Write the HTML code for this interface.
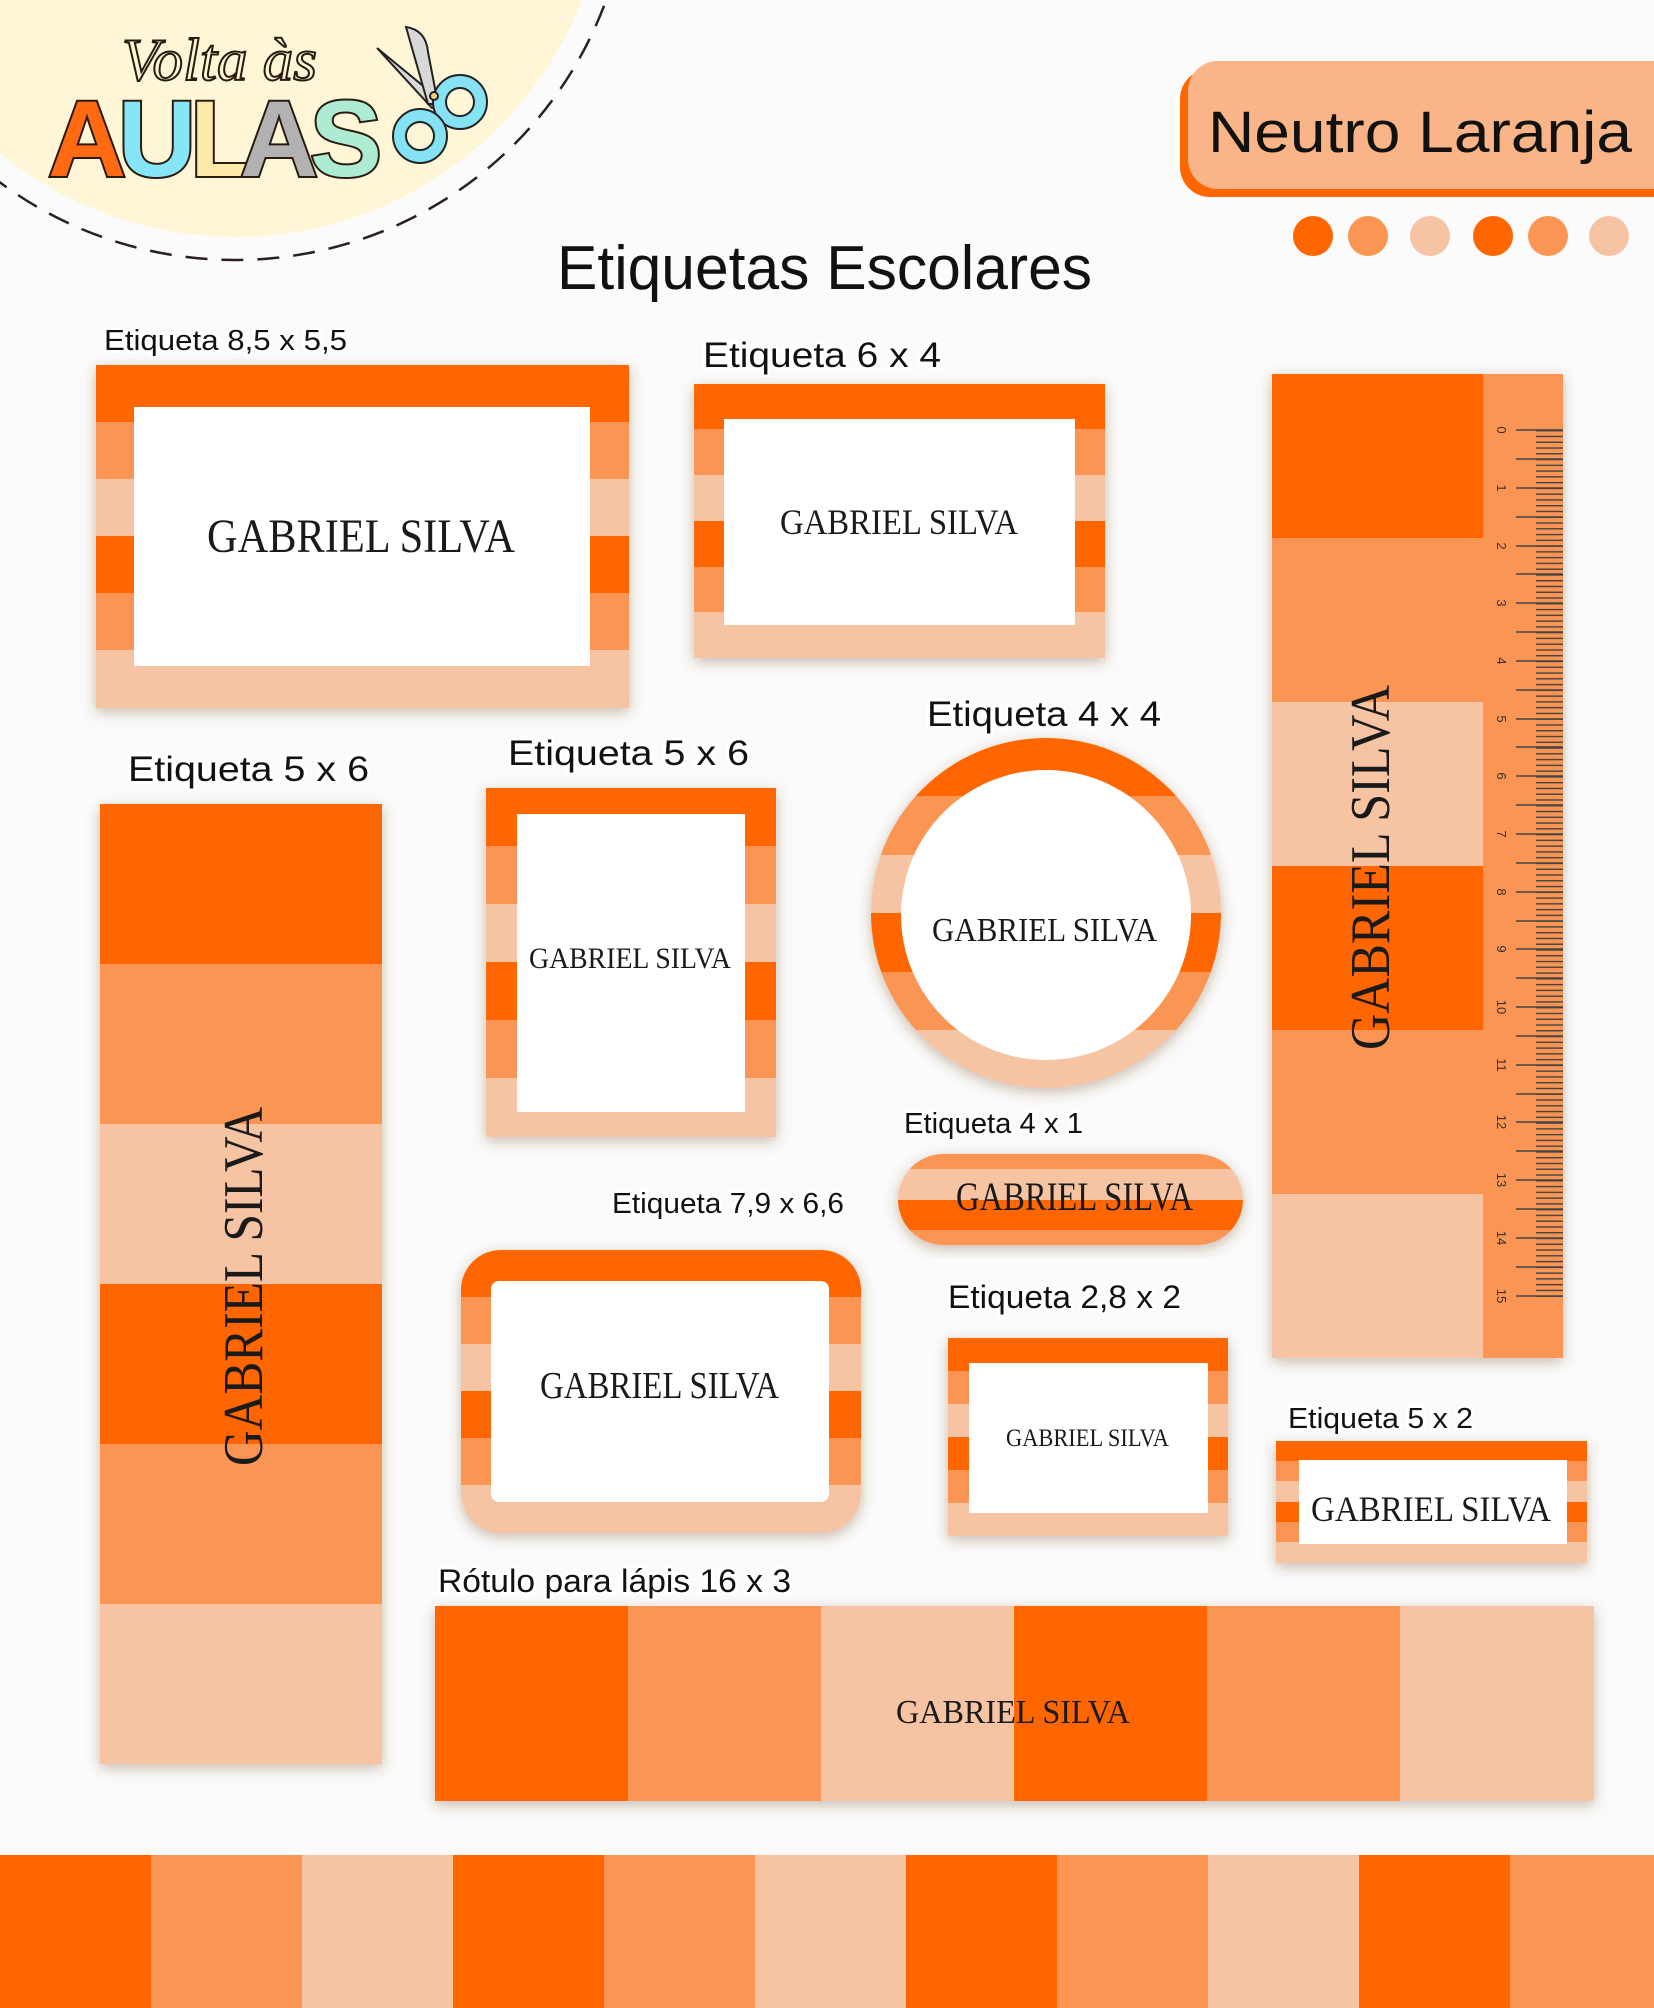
<!DOCTYPE html>
<html><head><meta charset="utf-8">
<style>
html,body{margin:0;padding:0;background:#fbfbfb;}
svg{display:block;}
.lb{font-family:"Liberation Sans",sans-serif;fill:#111;stroke:#fff;stroke-width:6;paint-order:stroke;stroke-linejoin:round;}
.nm{font-family:"Liberation Serif",serif;fill:#1a1a1a;}
</style></head>
<body>
<svg width="1654" height="2008" viewBox="0 0 1654 2008" xmlns="http://www.w3.org/2000/svg">
<defs>
<filter id="sh" x="-10%" y="-10%" width="120%" height="125%">
<feDropShadow dx="0" dy="4" stdDeviation="7" flood-color="#6b3a20" flood-opacity="0.35"/>
</filter>
<pattern id="mm" x="1536" y="430" width="30" height="5.77" patternUnits="userSpaceOnUse">
<rect x="0" y="0" width="30" height="1.4" fill="#444"/>
</pattern>
<clipPath id="c1"><rect x="461" y="1250" width="400" height="283" rx="40"/></clipPath>
<clipPath id="cc"><circle cx="1046" cy="913" r="175"/></clipPath>
<clipPath id="cp"><rect x="898" y="1154" width="345" height="91" rx="45.5"/></clipPath>
</defs>
<rect width="1654" height="2008" fill="#fbfbfb"/>

<!-- header logo -->
<circle cx="235" cy="-135" r="372" fill="#fef6d6"/>
<circle cx="235" cy="-135" r="395" fill="none" stroke="#2a2020" stroke-width="2.5" stroke-dasharray="22 14"/>
<text x="122" y="80" font-family="Liberation Serif,serif" font-style="italic" font-size="60" fill="none" stroke="#2a1a10" stroke-width="2" textLength="195" lengthAdjust="spacingAndGlyphs">Volta às</text>
<g font-family="Liberation Sans,sans-serif" font-weight="bold" font-size="108" stroke="#2a1a10" stroke-width="4" paint-order="stroke">
<text x="48" y="176" fill="#ff6a13">A</text>
<text x="118" y="176" fill="#86e6f7">U</text>
<text x="190" y="176" fill="#fde9a8">L</text>
<text x="240" y="176" fill="#b2b2b2">A</text>
<text x="310" y="176" fill="#aeebd3">S</text>
</g>
<g stroke="#222" stroke-width="2">
<path d="M377 48 L428 90 L440 104 L432 108 Z" fill="#d8d8d8"/>
<path d="M406 27 Q426 30 428 52 L438 104 L428 104 Z" fill="#d8d8d8"/>
<circle cx="460" cy="102" r="27" fill="#84e2f2"/><circle cx="460" cy="102" r="14" fill="#fef6d6"/>
<circle cx="420" cy="136" r="27" fill="#84e2f2"/><circle cx="420" cy="136" r="14" fill="#fef6d6"/>
<circle cx="434" cy="96" r="4" fill="#f5d070"/>
</g>

<!-- Neutro Laranja -->
<rect x="1180" y="69" width="520" height="128" rx="30" fill="#ff6600"/>
<rect x="1188" y="61" width="520" height="128" rx="30" fill="#f9b487"/>
<text x="1208" y="152" font-family="Liberation Sans,sans-serif" font-size="58" fill="#111" textLength="424" lengthAdjust="spacingAndGlyphs">Neutro Laranja</text>
<circle cx="1313" cy="236" r="20" fill="#ff6600"/>
<circle cx="1368" cy="236" r="20" fill="#fb9553"/>
<circle cx="1430" cy="236" r="20" fill="#f6c4a2"/>
<circle cx="1493" cy="236" r="20" fill="#ff6600"/>
<circle cx="1548" cy="236" r="20" fill="#fb9553"/>
<circle cx="1609" cy="236" r="20" fill="#f6c4a2"/>

<text x="557" y="289" font-family="Liberation Sans,sans-serif" font-size="62" fill="#111" textLength="535" lengthAdjust="spacingAndGlyphs">Etiquetas Escolares</text>

<!-- labels -->
<g class="lb">
<text x="104" y="350" font-size="29" textLength="243" lengthAdjust="spacingAndGlyphs">Etiqueta 8,5 x 5,5</text>
<text x="703" y="367" font-size="35" textLength="238" lengthAdjust="spacingAndGlyphs">Etiqueta 6 x 4</text>
<text x="927" y="726" font-size="35" textLength="234" lengthAdjust="spacingAndGlyphs">Etiqueta 4 x 4</text>
<text x="128" y="781" font-size="35" textLength="241" lengthAdjust="spacingAndGlyphs">Etiqueta 5 x 6</text>
<text x="508" y="765" font-size="35" textLength="241" lengthAdjust="spacingAndGlyphs">Etiqueta 5 x 6</text>
<text x="904" y="1133" font-size="29" textLength="179" lengthAdjust="spacingAndGlyphs">Etiqueta 4 x 1</text>
<text x="612" y="1213" font-size="29" textLength="232" lengthAdjust="spacingAndGlyphs">Etiqueta 7,9 x 6,6</text>
<text x="948" y="1308" font-size="32" textLength="233" lengthAdjust="spacingAndGlyphs">Etiqueta 2,8 x 2</text>
<text x="1288" y="1428" font-size="29" textLength="185" lengthAdjust="spacingAndGlyphs">Etiqueta 5 x 2</text>
<text x="438" y="1592" font-size="32" textLength="353" lengthAdjust="spacingAndGlyphs">Rótulo para lápis 16 x 3</text>
</g>

<!-- Label 8.5x5.5 -->
<g filter="url(#sh)">
<rect x="96" y="365" width="533" height="58" fill="#ff6600"/>
<rect x="96" y="422" width="533" height="58" fill="#fb9553"/>
<rect x="96" y="479" width="533" height="58" fill="#f6c4a2"/>
<rect x="96" y="536" width="533" height="58" fill="#ff6600"/>
<rect x="96" y="593" width="533" height="58" fill="#fb9553"/>
<rect x="96" y="650" width="533" height="58" fill="#f6c4a2"/>
</g>
<rect x="134" y="407" width="456" height="259" fill="#fff"/>
<text class="nm" x="207" y="552" font-size="48" textLength="308" lengthAdjust="spacingAndGlyphs">GABRIEL SILVA</text>

<!-- Label 6x4 -->
<g filter="url(#sh)">
<rect x="694" y="384" width="411" height="46" fill="#ff6600"/>
<rect x="694" y="429" width="411" height="47" fill="#fb9553"/>
<rect x="694" y="475" width="411" height="47" fill="#f6c4a2"/>
<rect x="694" y="521" width="411" height="47" fill="#ff6600"/>
<rect x="694" y="567" width="411" height="47" fill="#fb9553"/>
<rect x="694" y="612" width="411" height="46" fill="#f6c4a2"/>
</g>
<rect x="724" y="419" width="351" height="206" fill="#fff"/>
<text class="nm" x="780" y="534" font-size="36" textLength="238" lengthAdjust="spacingAndGlyphs">GABRIEL SILVA</text>

<!-- Ruler -->
<g filter="url(#sh)">
<rect x="1272" y="374" width="291" height="164" fill="#ff6600"/>
<rect x="1272" y="538" width="291" height="164" fill="#fb9553"/>
<rect x="1272" y="702" width="291" height="164" fill="#f6c4a2"/>
<rect x="1272" y="866" width="291" height="164" fill="#ff6600"/>
<rect x="1272" y="1030" width="291" height="164" fill="#fb9553"/>
<rect x="1272" y="1194" width="291" height="164" fill="#f6c4a2"/>
</g>
<rect x="1483" y="374" width="80" height="984" fill="#fb9553"/>
<rect x="1536" y="430" width="27" height="867" fill="url(#mm)"/>
<g stroke="#444" stroke-width="1.6">
<path d="M1516 430H1563M1516 459H1563M1516 488H1563M1516 517H1563M1516 546H1563M1516 574H1563M1516 603H1563M1516 632H1563M1516 661H1563M1516 690H1563M1516 719H1563M1516 747H1563M1516 776H1563M1516 805H1563M1516 834H1563M1516 863H1563M1516 892H1563M1516 921H1563M1516 949H1563M1516 978H1563M1516 1007H1563M1516 1036H1563M1516 1065H1563M1516 1094H1563M1516 1122H1563M1516 1151H1563M1516 1180H1563M1516 1209H1563M1516 1238H1563M1516 1267H1563M1516 1296H1563"/>
</g>
<g font-family="Liberation Sans,sans-serif" font-size="13" fill="#333">
<text transform="translate(1497,430) rotate(90)" text-anchor="middle">0</text>
<text transform="translate(1497,488) rotate(90)" text-anchor="middle">1</text>
<text transform="translate(1497,546) rotate(90)" text-anchor="middle">2</text>
<text transform="translate(1497,603) rotate(90)" text-anchor="middle">3</text>
<text transform="translate(1497,661) rotate(90)" text-anchor="middle">4</text>
<text transform="translate(1497,719) rotate(90)" text-anchor="middle">5</text>
<text transform="translate(1497,776) rotate(90)" text-anchor="middle">6</text>
<text transform="translate(1497,834) rotate(90)" text-anchor="middle">7</text>
<text transform="translate(1497,892) rotate(90)" text-anchor="middle">8</text>
<text transform="translate(1497,949) rotate(90)" text-anchor="middle">9</text>
<text transform="translate(1497,1007) rotate(90)" text-anchor="middle">10</text>
<text transform="translate(1497,1065) rotate(90)" text-anchor="middle">11</text>
<text transform="translate(1497,1122) rotate(90)" text-anchor="middle">12</text>
<text transform="translate(1497,1180) rotate(90)" text-anchor="middle">13</text>
<text transform="translate(1497,1238) rotate(90)" text-anchor="middle">14</text>
<text transform="translate(1497,1296) rotate(90)" text-anchor="middle">15</text>
</g>
<text class="nm" transform="translate(1389,1050) rotate(-90)" font-size="56" textLength="365" lengthAdjust="spacingAndGlyphs">GABRIEL SILVA</text>

<!-- Left 5x6 -->
<g filter="url(#sh)">
<rect x="100" y="804" width="282" height="160" fill="#ff6600"/>
<rect x="100" y="964" width="282" height="160" fill="#fb9553"/>
<rect x="100" y="1124" width="282" height="160" fill="#f6c4a2"/>
<rect x="100" y="1284" width="282" height="160" fill="#ff6600"/>
<rect x="100" y="1444" width="282" height="160" fill="#fb9553"/>
<rect x="100" y="1604" width="282" height="160" fill="#f6c4a2"/>
</g>
<text class="nm" transform="translate(262,1466) rotate(-90)" font-size="56" textLength="359" lengthAdjust="spacingAndGlyphs">GABRIEL SILVA</text>

<!-- Mid 5x6 -->
<g filter="url(#sh)">
<rect x="486" y="788" width="290" height="59" fill="#ff6600"/>
<rect x="486" y="846" width="290" height="59" fill="#fb9553"/>
<rect x="486" y="904" width="290" height="59" fill="#f6c4a2"/>
<rect x="486" y="962" width="290" height="59" fill="#ff6600"/>
<rect x="486" y="1020" width="290" height="59" fill="#fb9553"/>
<rect x="486" y="1078" width="290" height="59" fill="#f6c4a2"/>
</g>
<rect x="517" y="814" width="228" height="298" fill="#fff"/>
<text class="nm" x="529" y="968" font-size="30" textLength="202" lengthAdjust="spacingAndGlyphs">GABRIEL SILVA</text>

<!-- Circle 4x4 -->
<g filter="url(#sh)"><g clip-path="url(#cc)">
<rect x="860" y="738" width="380" height="59" fill="#ff6600"/>
<rect x="860" y="796" width="380" height="60" fill="#fb9553"/>
<rect x="860" y="855" width="380" height="59" fill="#f6c4a2"/>
<rect x="860" y="913" width="380" height="60" fill="#ff6600"/>
<rect x="860" y="972" width="380" height="59" fill="#fb9553"/>
<rect x="860" y="1030" width="380" height="60" fill="#f6c4a2"/>
</g></g>
<circle cx="1046" cy="915" r="145" fill="#fff"/>
<text class="nm" x="932" y="941" font-size="34" textLength="225" lengthAdjust="spacingAndGlyphs">GABRIEL SILVA</text>

<!-- Pill 4x1 -->
<g filter="url(#sh)"><g clip-path="url(#cp)">
<rect x="898" y="1154" width="345" height="16" fill="#fb9553"/>
<rect x="898" y="1169" width="345" height="32" fill="#f6c4a2"/>
<rect x="898" y="1200" width="345" height="31" fill="#ff6600"/>
<rect x="898" y="1230" width="345" height="15" fill="#fb9553"/>
</g></g>
<text class="nm" x="956" y="1210" font-size="40" textLength="237" lengthAdjust="spacingAndGlyphs">GABRIEL SILVA</text>

<!-- 7.9 x 6.6 -->
<g filter="url(#sh)"><g clip-path="url(#c1)">
<rect x="461" y="1250" width="400" height="48" fill="#ff6600"/>
<rect x="461" y="1297" width="400" height="48" fill="#fb9553"/>
<rect x="461" y="1344" width="400" height="48" fill="#f6c4a2"/>
<rect x="461" y="1391" width="400" height="48" fill="#ff6600"/>
<rect x="461" y="1438" width="400" height="48" fill="#fb9553"/>
<rect x="461" y="1485" width="400" height="48" fill="#f6c4a2"/>
</g></g>
<rect x="491" y="1281" width="338" height="221" rx="8" fill="#fff"/>
<text class="nm" x="540" y="1398" font-size="38" textLength="239" lengthAdjust="spacingAndGlyphs">GABRIEL SILVA</text>

<!-- 2.8 x 2 -->
<g filter="url(#sh)">
<rect x="948" y="1338" width="280" height="34" fill="#ff6600"/>
<rect x="948" y="1371" width="280" height="34" fill="#fb9553"/>
<rect x="948" y="1404" width="280" height="34" fill="#f6c4a2"/>
<rect x="948" y="1437" width="280" height="34" fill="#ff6600"/>
<rect x="948" y="1470" width="280" height="34" fill="#fb9553"/>
<rect x="948" y="1503" width="280" height="33" fill="#f6c4a2"/>
</g>
<rect x="969" y="1363" width="239" height="150" fill="#fff"/>
<text class="nm" x="1006" y="1446" font-size="25" textLength="163" lengthAdjust="spacingAndGlyphs">GABRIEL SILVA</text>

<!-- 5 x 2 -->
<g filter="url(#sh)">
<rect x="1276" y="1441" width="311" height="21" fill="#ff6600"/>
<rect x="1276" y="1461" width="311" height="21" fill="#fb9553"/>
<rect x="1276" y="1481" width="311" height="21" fill="#f6c4a2"/>
<rect x="1276" y="1502" width="311" height="21" fill="#ff6600"/>
<rect x="1276" y="1522" width="311" height="21" fill="#fb9553"/>
<rect x="1276" y="1542" width="311" height="21" fill="#f6c4a2"/>
</g>
<rect x="1299" y="1460" width="268" height="84" fill="#fff"/>
<text class="nm" x="1311" y="1521" font-size="36" textLength="240" lengthAdjust="spacingAndGlyphs">GABRIEL SILVA</text>

<!-- Rótulo -->
<g filter="url(#sh)">
<rect x="435" y="1606" width="194" height="195" fill="#ff6600"/>
<rect x="628" y="1606" width="194" height="195" fill="#fb9553"/>
<rect x="821" y="1606" width="194" height="195" fill="#f6c4a2"/>
<rect x="1014" y="1606" width="194" height="195" fill="#ff6600"/>
<rect x="1207" y="1606" width="194" height="195" fill="#fb9553"/>
<rect x="1400" y="1606" width="194" height="195" fill="#f6c4a2"/>
</g>
<text class="nm" x="896" y="1723" font-size="34" textLength="234" lengthAdjust="spacingAndGlyphs">GABRIEL SILVA</text>

<!-- bottom band -->
<rect x="0" y="1855" width="152" height="153" fill="#ff6600"/>
<rect x="151" y="1855" width="152" height="153" fill="#fb9553"/>
<rect x="302" y="1855" width="152" height="153" fill="#f6c4a2"/>
<rect x="453" y="1855" width="152" height="153" fill="#ff6600"/>
<rect x="604" y="1855" width="152" height="153" fill="#fb9553"/>
<rect x="755" y="1855" width="152" height="153" fill="#f6c4a2"/>
<rect x="906" y="1855" width="152" height="153" fill="#ff6600"/>
<rect x="1057" y="1855" width="152" height="153" fill="#fb9553"/>
<rect x="1208" y="1855" width="152" height="153" fill="#f6c4a2"/>
<rect x="1359" y="1855" width="152" height="153" fill="#ff6600"/>
<rect x="1510" y="1855" width="144" height="153" fill="#fb9553"/>
</svg>
</body></html>
